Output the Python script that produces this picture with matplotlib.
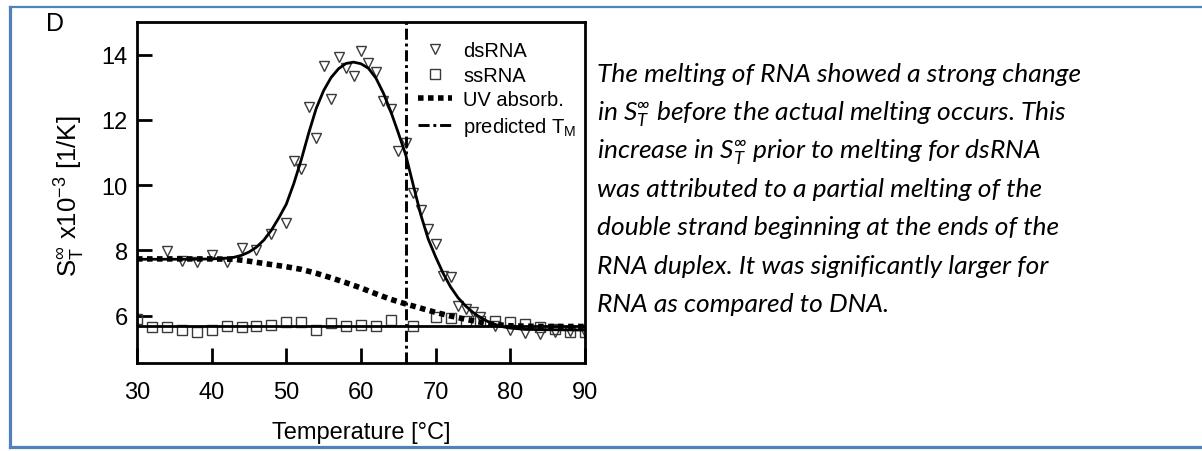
import matplotlib
matplotlib.use('Agg')
import matplotlib.pyplot as plt
from matplotlib.lines import Line2D

W, H = 1202, 452

# measured data -------------------------------------------------------------------------------------------------------
ds_temp = [34, 36, 38, 40, 42, 44, 46, 48, 50, 51, 52, 53, 54, 55, 56, 57, 58, 59, 60, 61, 62, 63, 64, 65, 66,
           67, 68, 69, 70, 71, 72, 73, 74, 75, 76, 78, 80, 82, 84, 86, 88, 90]
ds_st = [7.98, 7.68, 7.65, 7.86, 7.65, 8.06, 8.0, 8.49, 8.83, 10.74, 10.48, 12.4, 11.43, 13.66, 12.65, 13.93,
         13.6, 13.34, 14.1, 13.75, 13.47, 12.57, 12.32, 11.05, 11.3, 9.77, 9.23, 8.65, 8.19, 7.22, 7.2, 6.29,
         6.2, 6.11, 5.95, 5.69, 5.56, 5.47, 5.44, 5.5, 5.54, 5.5]

ss_temp = [30, 32, 34, 36, 38, 40, 42, 44, 46, 48, 50, 52, 54, 56, 58, 60, 62, 64, 67, 70, 72, 74, 76, 78,
           80, 82, 84, 86, 88, 90]
ss_st = [5.9, 5.64, 5.65, 5.56, 5.49, 5.56, 5.67, 5.65, 5.68, 5.71, 5.8, 5.8, 5.57, 5.77, 5.67, 5.71, 5.69,
         5.87, 5.69, 5.95, 5.92, 5.84, 5.84, 5.84, 5.8, 5.74, 5.64, 5.59, 5.49, 5.51]

# fit curves
ds_fit_temp = [30, 34, 38, 40, 41, 42, 43, 44, 45, 46, 47, 48, 49, 50, 51, 52, 53, 54, 55, 56, 57, 58, 59, 60,
               61, 62, 63, 64, 65, 66, 67, 68, 69, 70, 71, 72, 73, 74, 75, 76, 77, 78, 79, 80, 82, 85, 90]
ds_fit_st = [7.73, 7.73, 7.73, 7.74, 7.75, 7.76, 7.79, 7.85, 7.95, 8.1, 8.32, 8.62, 9.0, 9.42, 10.05, 10.78,
             11.6, 12.35, 12.9, 13.3, 13.57, 13.73, 13.77, 13.72, 13.58, 13.28, 12.82, 12.25, 11.6, 10.92,
             10.0, 9.1, 8.35, 7.8, 7.3, 6.88, 6.55, 6.3, 6.1, 5.94, 5.82, 5.73, 5.66, 5.62, 5.58, 5.57, 5.56]

ss_fit_temp = [30, 90]
ss_fit_st = [5.67, 5.67]

uv_temp = [30, 36, 40, 43, 45, 47, 50, 52, 54, 56, 58, 60, 62, 64, 66, 68, 70, 72, 74, 76, 78, 80, 84, 90]
uv_st = [7.74, 7.74, 7.74, 7.73, 7.67, 7.6, 7.5, 7.42, 7.3, 7.16, 7.01, 6.85, 6.67, 6.5, 6.36, 6.23, 6.1,
         5.99, 5.89, 5.8, 5.73, 5.69, 5.67, 5.67]

tm_predicted = 66

x_ticks = [30, 40, 50, 60, 70, 80, 90]
y_ticks = [6, 8, 10, 12, 14]

paragraph = [
    'The melting of RNA showed a strong change',
    r'in $\mathregular{S_T^{\infty}}$ before the actual melting occurs. This',
    r'increase in $\mathregular{S_T^{\infty}}$ prior to melting for dsRNA',
    'was attributed to a partial melting of the',
    'double strand beginning at the ends of the',
    'RNA duplex. It was significantly larger for',
    'RNA as compared to DNA.',
]

# styling -------------------------------------------------------------------------------------------------------------
plt.rcParams['font.family'] = ['Liberation Sans', 'DejaVu Sans']
plt.rcParams['mathtext.fontset'] = 'custom'
plt.rcParams['mathtext.rm'] = 'Liberation Sans'
plt.rcParams['mathtext.it'] = 'Liberation Sans:italic'

spine_lw = 2.0
dash_dot = (0, (3.8, 1.3, 1.0, 1.3))
uv_dots = (0, (1.0, 0.8))

fig = plt.figure(figsize=(W / 100, H / 100), dpi=100)
ax = fig.add_axes([137 / W, 1 - 364 / H, 448 / W, 341 / H])

ax.plot(ds_temp, ds_st, linestyle='none', marker='v', markersize=7.2, markerfacecolor='none',
        markeredgecolor='#3a3a3a', markeredgewidth=1.0, label='dsRNA')
ax.plot(ss_temp, ss_st, linestyle='none', marker='s', markersize=7.0, markerfacecolor='none',
        markeredgecolor='#3a3a3a', markeredgewidth=1.0, label='ssRNA')
ax.plot(uv_temp, uv_st, color='black', linewidth=4.0, linestyle=uv_dots, dash_capstyle='butt',
        label='UV absorb.')
ax.axvline(tm_predicted, color='black', linewidth=2.1, linestyle=dash_dot, label=r'predicted T$_\mathregular{M}$')
ax.plot(ds_fit_temp, ds_fit_st, color='black', linewidth=2.0)
ax.plot(ss_fit_temp, ss_fit_st, color='black', linewidth=2.0)

ax.set_xlim(30, 90)
ax.set_ylim(4.55, 15.0)
ax.set_xticks(x_ticks)
ax.set_yticks(y_ticks)
ax.tick_params(direction='in', length=11, width=spine_lw, labelsize=17)
ax.tick_params(axis='x', pad=13)
ax.tick_params(axis='y', pad=6.5)
for s in ax.spines.values():
    s.set_linewidth(spine_lw)

ax.legend(loc='upper left', bbox_to_anchor=((418 - 137) / 448, (364 - 42) / 341), frameon=False,
          fontsize=14.5, borderpad=0, borderaxespad=0, handlelength=1.7, handletextpad=0.55,
          labelspacing=0.28)

# labels in figure pixels (from top)
def px(x, y):
    return x / W, 1 - y / H

fig.text(*px(55, 24), 'D', fontsize=18, ha='center', va='center')
fig.text(*px(361, 433), 'Temperature [°C]', fontsize=17, ha='center', va='center')
fig.text(*px(70, 196), r'$\mathregular{S_T^{\infty}}$ x10$^\mathregular{-3}$ [1/K]', fontsize=18.5,
         rotation=90, ha='center', va='center')

for i, line in enumerate(paragraph):
    fig.text(*px(597, 82 + i * 38.3), line, family=['Lato', 'DejaVu Sans'], style='italic', fontsize=19,
             ha='left', va='baseline')

# blue frame (open on the right)
frame_color = '#4F81BD'
fig.add_artist(Line2D([10 / W, 1], [1 - 8 / H, 1 - 8 / H], color=frame_color, linewidth=1.6,
                      transform=fig.transFigure))
fig.add_artist(Line2D([10.5 / W, 10.5 / W], [1 - 8 / H, 1 - 448 / H], color=frame_color, linewidth=2.3,
                      transform=fig.transFigure))
fig.add_artist(Line2D([10 / W, 1], [1 - 448 / H, 1 - 448 / H], color=frame_color, linewidth=2.3,
                      transform=fig.transFigure))

fig.savefig('out.png', dpi=100)
